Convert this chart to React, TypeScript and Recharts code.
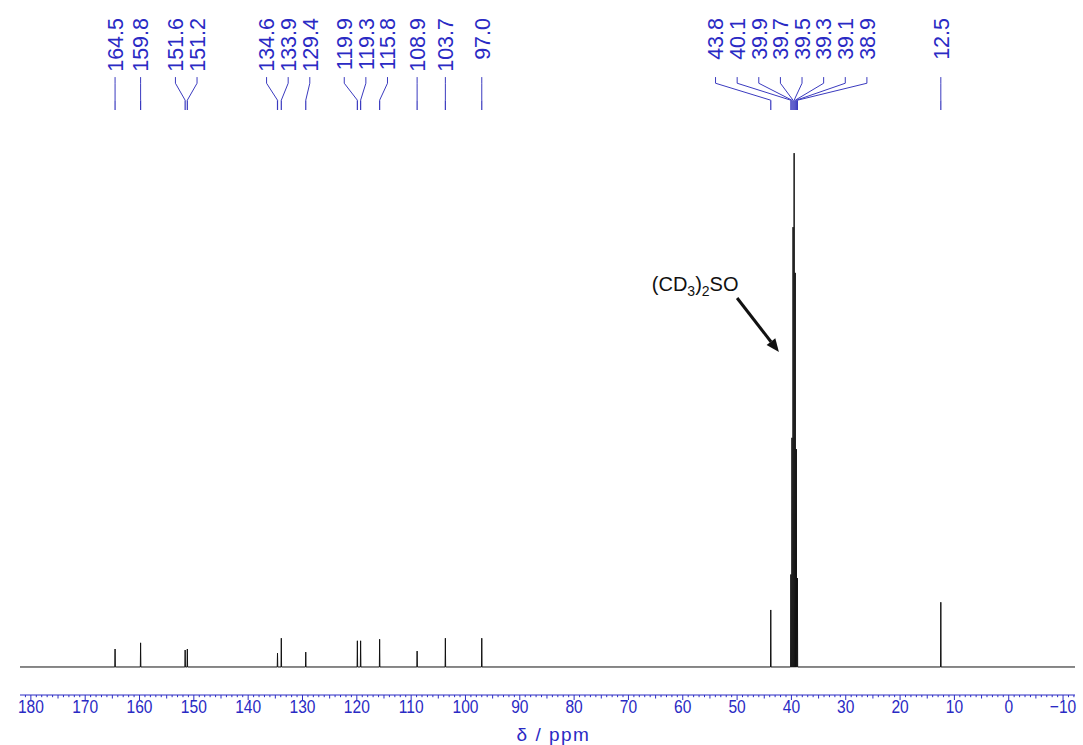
import { ComposedChart, Line, XAxis, YAxis, ReferenceDot, ReferenceLine } from 'recharts';

// 13C NMR spectrum in (CD3)2SO — peak list

const PEAK_PPM = [
  164.5, 159.8, 151.6, 151.2, 134.6, 133.9, 129.4, 119.9, 119.3, 115.8, 108.9, 103.7, 97.0,
  43.8, 40.1, 39.9, 39.7, 39.5, 39.3, 39.1, 38.9, 12.5,
];
const PEAK_LABELS = [
  '164.5', '159.8', '151.6', '151.2', '134.6', '133.9', '129.4', '119.9', '119.3', '115.8', '108.9', '103.7', '97.0',
  '43.8', '40.1', '39.9', '39.7', '39.5', '39.3', '39.1', '38.9', '12.5',
];
// relative intensity, tallest solvent line = 100
const PEAK_HEIGHT = [
  3.5, 4.7, 3.3, 3.5, 2.7, 5.6, 2.9, 5.1, 5.1, 5.4, 3.1, 5.6, 5.6,
  11.1, 18, 44.6, 85.6, 100, 76.7, 42.4, 17.3, 12.6,
];
const MAJOR_TICKS = [180, 170, 160, 150, 140, 130, 120, 110, 100, 90, 80, 70, 60, 50, 40, 30, 20, 10, 0, -10];

const X_DOMAIN: [number, number] = [-12.2, 182];
const Y_DOMAIN: [number, number] = [-5.45, 129.8];

const BLUE = '#2a2ac4';
const LINE_BLUE = '#3a3abf';
const PEAK_HALF_WIDTH = 0.05;
const LABEL_GAP_PPM = 3.98;

// label + connector levels (intensity units, above the spectrum)
const LABEL_TOP = 126.3;
const CONN_TOP = 114.8;
const CONN_BEND1 = 113.6;
const CONN_BEND2 = 110.3;
const CONN_BOTTOM = 108.4;

interface SpecPoint {
  ppm: number;
  intensity: number;
}

const spectrum: SpecPoint[] = [{ ppm: X_DOMAIN[1], intensity: 0 }];
PEAK_PPM.forEach((p, k) => {
  spectrum.push(
    { ppm: p + PEAK_HALF_WIDTH, intensity: 0 },
    { ppm: p, intensity: PEAK_HEIGHT[k] },
    { ppm: p - PEAK_HALF_WIDTH, intensity: 0 },
  );
});
spectrum.push({ ppm: X_DOMAIN[0], intensity: 0 });

const allTicks: number[] = [];
for (let v = 181; v >= -12; v--) allTicks.push(v);

// spread overlapping labels, like the NMR software does
function layoutLabels(ppms: number[], gap: number): number[] {
  let clusters = ppms.map((p, i) => ({ idx: [i], center: p }));
  let merged = true;
  while (merged) {
    merged = false;
    for (let i = 0; i < clusters.length - 1; i++) {
      const a = clusters[i];
      const b = clusters[i + 1];
      const aRight = a.center - ((a.idx.length - 1) * gap) / 2;
      const bLeft = b.center + ((b.idx.length - 1) * gap) / 2;
      if (aRight - bLeft < gap) {
        const idx = [...a.idx, ...b.idx];
        const center = idx.reduce((s, k) => s + ppms[k], 0) / idx.length;
        clusters.splice(i, 2, { idx, center });
        merged = true;
        break;
      }
    }
  }
  const out: number[] = new Array(ppms.length).fill(0);
  for (const c of clusters) {
    const n = c.idx.length;
    c.idx.forEach((k, j) => {
      out[k] = c.center + ((n - 1) / 2 - j) * gap;
    });
  }
  return out;
}

const labelPpm = layoutLabels(PEAK_PPM, LABEL_GAP_PPM);

function AxisTick(props: any) {
  const { x, y, payload } = props;
  const v = payload.value as number;
  const major = MAJOR_TICKS.includes(v);
  const len = major ? 5 : v % 5 === 0 ? 3.5 : 2.2;
  return (
    <g>
      <line x1={x} x2={x} y1={y} y2={y + len} stroke={BLUE} strokeWidth={1} />
      {major && (
        <text
          transform={`translate(${x},${y + 18}) scale(0.82,1)`}
          textAnchor="middle"
          fill={BLUE}
          fontSize={19}
          fontFamily="'Liberation Sans', Arial, sans-serif"
        >
          {v < 0 ? `\u2212${-v}` : v}
        </text>
      )}
    </g>
  );
}

function Arrow(props: any) {
  const { x1, y1, x2, y2 } = props;
  const ang = Math.atan2(y2 - y1, x2 - x1);
  const headLen = 13;
  const headW = 5.5;
  const bx = x2 - headLen * Math.cos(ang);
  const by = y2 - headLen * Math.sin(ang);
  const nx = -Math.sin(ang) * headW;
  const ny = Math.cos(ang) * headW;
  return (
    <g>
      <line x1={x1} y1={y1} x2={bx} y2={by} stroke="#111" strokeWidth={3} />
      <polygon points={`${x2},${y2} ${bx + nx},${by + ny} ${bx - nx},${by - ny}`} fill="#111" />
    </g>
  );
}

export default function App() {
  return (
    <div style={{ position: 'absolute', left: 0, top: 0, width: 1083, height: 745, background: '#fff' }}>
      <ComposedChart
        width={1083}
        height={745}
        data={spectrum}
        margin={{ top: 0, right: 8, bottom: 0, left: 20 }}
      >
        <XAxis
          dataKey="ppm"
          type="number"
          domain={X_DOMAIN}
          reversed
          allowDataOverflow
          ticks={allTicks}
          interval={0}
          tickSize={0}
          tickMargin={0}
          tickLine={false}
          tick={<AxisTick />}
          axisLine={{ stroke: BLUE, strokeWidth: 1 }}
          height={50}
          label={{
            value: 'δ / ppm',
            position: 'insideBottom',
            offset: 4,
            dx: 6,
            fill: BLUE,
            fontSize: 19,
            letterSpacing: 1.5,
            fontFamily: "'Liberation Sans', Arial, sans-serif",
          }}
        />
        <YAxis type="number" domain={Y_DOMAIN} allowDataOverflow hide />

        <Line
          dataKey="intensity"
          type="linear"
          stroke="#111"
          strokeWidth={1}
          dot={false}
          activeDot={false}
          isAnimationActive={false}
        />

        {PEAK_PPM.map((p, k) => (
          <ReferenceLine
            key={`c1-${k}`}
            segment={[{ x: labelPpm[k], y: CONN_TOP }, { x: labelPpm[k], y: CONN_BEND1 }]}
            stroke={LINE_BLUE}
            strokeWidth={1}
          />
        ))}
        {PEAK_PPM.map((p, k) => (
          <ReferenceLine
            key={`c2-${k}`}
            segment={[{ x: labelPpm[k], y: CONN_BEND1 }, { x: p, y: CONN_BEND2 }]}
            stroke={LINE_BLUE}
            strokeWidth={1}
          />
        ))}
        {PEAK_PPM.map((p, k) => (
          <ReferenceLine
            key={`c3-${k}`}
            segment={[{ x: p, y: CONN_BEND2 }, { x: p, y: CONN_BOTTOM }]}
            stroke={LINE_BLUE}
            strokeWidth={1.2}
          />
        ))}

        {PEAK_LABELS.map((lab, k) => (
          <ReferenceDot
            key={`l-${k}`}
            x={labelPpm[k]}
            y={LABEL_TOP}
            r={0}
            shape={(sp: any) => (
              <text
                transform={`translate(${sp.cx},${sp.cy}) rotate(-90)`}
                textAnchor="end"
                dy="0.36em"
                fill={BLUE}
                fontSize={21.5}
                fontFamily="'Liberation Sans', Arial, sans-serif"
              >
                {lab}
              </text>
            )}
          />
        ))}

        <ReferenceDot
          x={65.7}
          y={73.2}
          r={0}
          shape={(sp: any) => (
            <text x={sp.cx} y={sp.cy} fill="#111" fontSize={20} fontFamily="'Liberation Sans', Arial, sans-serif">
              (CD
              <tspan fontSize={14} dy={5}>3</tspan>
              <tspan dy={-5}>)</tspan>
              <tspan fontSize={14} dy={5}>2</tspan>
              <tspan dy={-5}>SO</tspan>
            </text>
          )}
        />
        <ReferenceLine
          segment={[{ x: 50.0, y: 71.8 }, { x: 42.3, y: 61.3 }]}
          shape={(sp: any) => <Arrow {...sp} />}
        />
      </ComposedChart>
    </div>
  );
}
